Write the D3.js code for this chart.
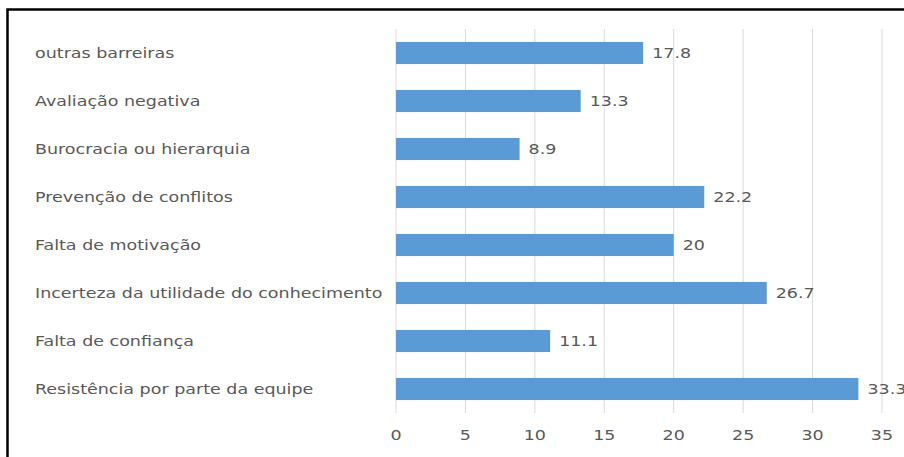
<!DOCTYPE html>
<html>
<head>
<meta charset="utf-8">
<script src="https://cdn.jsdelivr.net/npm/d3@7"></script>
<style>
  body { margin: 0; background: #fff; }
  svg text { font-family: "DejaVu Sans", sans-serif; fill: #595959; font-size: 14px; }
</style>
</head>
<body>
<script>
var categories = ["outras barreiras", "Avaliação negativa", "Burocracia ou hierarquia",
  "Prevenção de conflitos", "Falta de motivação", "Incerteza da utilidade do conhecimento",
  "Falta de confiança", "Resistência por parte da equipe"];
var values = [17.8, 13.3, 8.9, 22.2, 20, 26.7, 11.1, 33.3];
var ticks = [0, 5, 10, 15, 20, 25, 30, 35];

var width = 904, height = 457;
var stretch = 1.25; // text in the screenshot is wider than normal

var svg = d3.select("body").append("svg")
    .attr("width", width)
    .attr("height", height);

// frame (cropped screenshot border)
svg.append("path")
    .attr("d", "M7.5," + height + "V9.5H" + width)
    .attr("fill", "none")
    .attr("stroke", "#000")
    .attr("stroke-width", 2.5);

var x = d3.scaleLinear().domain([0, 35]).range([396, 882]);
var y = d3.scaleBand().domain(categories).range([29, 413]).paddingInner(0.54).paddingOuter(0.27);

// gridlines
svg.selectAll("line.grid").data(ticks).enter()
  .append("line")
    .attr("class", "grid")
    .attr("x1", function(d) { return x(d); })
    .attr("x2", function(d) { return x(d); })
    .attr("y1", 29)
    .attr("y2", 413)
    .attr("stroke", "#d9d9d9")
    .attr("stroke-width", 1);

// tick labels
svg.selectAll("text.tick").data(ticks).enter()
  .append("text")
    .attr("class", "tick")
    .attr("transform", function(d) { return "translate(" + x(d) + ",435) scale(" + stretch + ",1)"; })
    .attr("text-anchor", "middle")
    .attr("dy", "0.35em")
    .text(function(d) { return d; });

// bars
svg.selectAll("rect.bar").data(values).enter()
  .append("rect")
    .attr("class", "bar")
    .attr("x", x(0))
    .attr("y", function(d, i) { return y(categories[i]); })
    .attr("width", function(d) { return x(d) - x(0); })
    .attr("height", y.bandwidth())
    .attr("fill", "#5b9bd5");

// value labels
svg.selectAll("text.val").data(values).enter()
  .append("text")
    .attr("class", "val")
    .attr("transform", function(d, i) {
      return "translate(" + (x(d) + 9) + "," + (y(categories[i]) + y.bandwidth() / 2) + ") scale(" + stretch + ",1)";
    })
    .attr("dy", "0.35em")
    .text(function(d) { return d; });

// category labels
svg.selectAll("text.cat").data(categories).enter()
  .append("text")
    .attr("class", "cat")
    .attr("transform", function(d) {
      return "translate(35," + (y(d) + y.bandwidth() / 2) + ") scale(" + stretch + ",1)";
    })
    .attr("dy", "0.35em")
    .text(function(d) { return d; });
</script>
</body>
</html>
